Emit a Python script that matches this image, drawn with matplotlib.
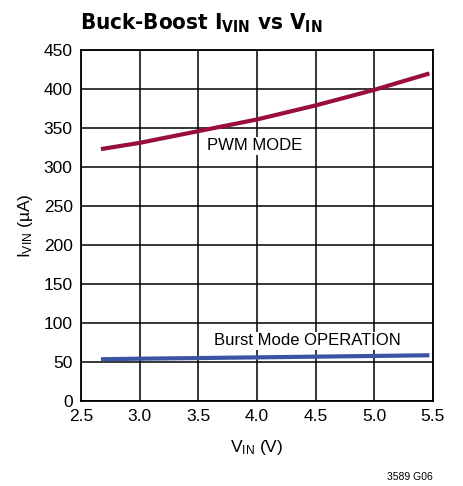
import matplotlib.pyplot as plt

plt.rcParams['font.family'] = ['Liberation Sans', 'DejaVu Sans']
plt.rcParams['mathtext.default'] = 'regular'

# data
vin = [2.67, 3.0, 3.5, 4.0, 4.5, 5.0, 5.47]
i_pwm = [323, 331, 346, 361, 379, 399, 420]
i_burst = [53.5, 54.2, 55.0, 55.9, 56.8, 57.7, 58.6]

xticks = [2.5, 3.0, 3.5, 4.0, 4.5, 5.0, 5.5]
yticks = list(range(0, 451, 50))

fig = plt.figure(figsize=(4.63, 4.86), dpi=100)
ax = fig.add_axes([0.175, 0.175, 0.76, 0.722])

ax.plot(vin, i_pwm, color='#9a0e3c', lw=3, solid_capstyle='butt')
ax.plot(vin, i_burst, color='#3b54a3', lw=3, solid_capstyle='butt')

ax.set_xlim(2.5, 5.5)
ax.set_ylim(0, 450)
ax.set_xticks(xticks)
ax.set_xticklabels(['%.1f' % t for t in xticks])
ax.set_yticks(yticks)
ax.grid(True, color='black', lw=1.1)
ax.tick_params(length=0, labelsize=12.5, pad=6)
for s in ax.spines.values():
    s.set_linewidth(1.3)

ax.text(3.98, 327, 'PWM MODE', ha='center', va='center', fontsize=12,
        bbox=dict(facecolor='white', edgecolor='none', pad=1))
ax.text(4.43, 77, 'Burst Mode OPERATION', ha='center', va='center', fontsize=12,
        bbox=dict(facecolor='white', edgecolor='none', pad=1))

ax.set_xlabel('V$_{IN}$ (V)', fontsize=12.5, labelpad=10)
ax.set_ylabel('I$_{VIN}$ (µA)', fontsize=12.5, labelpad=6)

fig.text(0.173, 0.953, 'Buck-Boost I$_{VIN}$ vs V$_{IN}$', fontsize=16,
         fontweight='bold', family='DejaVu Sans', fontstretch='condensed',
         ha='left', va='center')
fig.text(0.935, 0.008, '3589 G06', fontsize=7.5, ha='right', va='bottom')

fig.savefig('out.png', dpi=100)
